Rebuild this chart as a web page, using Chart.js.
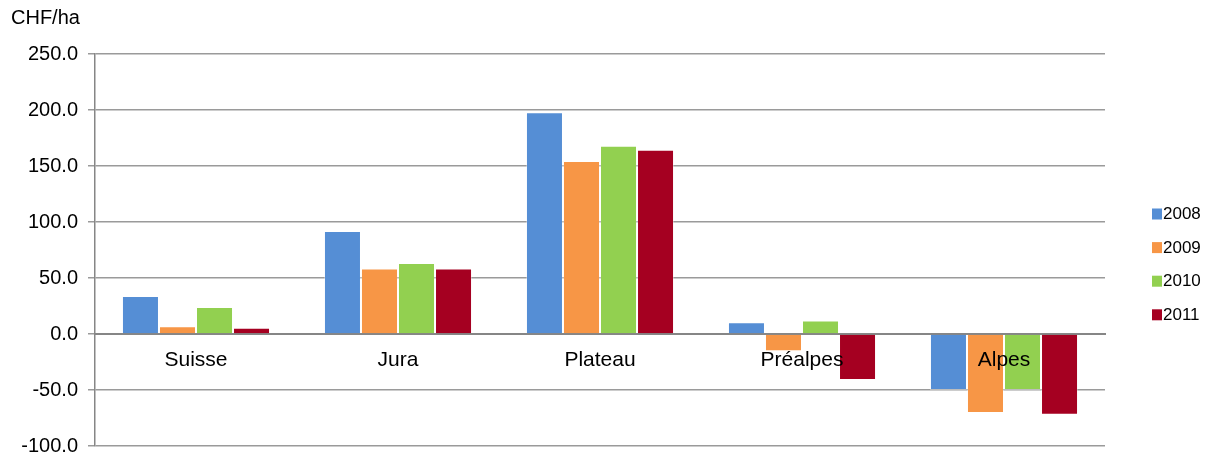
<!DOCTYPE html>
<html>
<head>
<meta charset="utf-8">
<script src="https://cdn.jsdelivr.net/npm/chart.js@4/dist/chart.umd.min.js"></script>
<style>
  html, body { margin: 0; padding: 0; background: #fff; }
  #wrap { width: 1214px; height: 457px; }
</style>
</head>
<body>
<div id="wrap"><canvas id="chartRevenu"></canvas></div>
<script>
// Données (CHF/ha)
const regions = ["Suisse", "Jura", "Plateau", "Préalpes", "Alpes"];
const annees = ["2008", "2009", "2010", "2011"];
const valeurs2008 = [34, 92, 198, 10.5, -50];
const valeurs2009 = [7, 58.5, 154.5, -15.5, -70.5];
const valeurs2010 = [24, 63.5, 168, 12, -50];
const valeurs2011 = [5.5, 58.5, 164.5, -41, -72];
const couleurs = ["#558ED5", "#F79646", "#92D050", "#A50021"];

const series = [valeurs2008, valeurs2009, valeurs2010, valeurs2011];
const police = "'Liberation Sans', Arial, sans-serif";

// Titre de l'axe Y et légende à droite
const decor = {
  id: "decor",
  afterDraw(chart) {
    const c = chart.ctx;
    c.save();
    c.fillStyle = "#000";
    c.font = "20px " + police;
    c.textBaseline = "middle";
    c.textAlign = "left";
    c.fillText("CHF/ha", 11, 18);
    c.font = "17px " + police;
    chart.data.datasets.forEach((ds, i) => {
      const y = 214 + i * 33.6;
      c.fillStyle = ds.backgroundColor;
      c.fillRect(1152, y - 5.5, 10, 11);
      c.fillStyle = "#000";
      c.fillText(ds.label, 1163, y + 0.5);
    });
    c.restore();
  }
};

const ctx = document.getElementById("chartRevenu").getContext("2d");
const chart = new Chart(ctx, {
  type: "bar",
  data: {
    labels: regions,
    datasets: annees.map((a, i) => ({
      label: a,
      data: series[i],
      backgroundColor: couleurs[i],
      borderColor: "rgba(255,255,255,0.35)",
      borderWidth: 1,
      categoryPercentage: 0.733,
      barPercentage: 1.0
    }))
  },
  options: {
    responsive: true,
    maintainAspectRatio: false,
    animation: false,
    layout: { padding: { left: 0, top: 54, right: 109, bottom: 11 } },
    plugins: {
      legend: { display: false },
      tooltip: { enabled: false }
    },
    scales: {
      x: {
        position: { y: 0 },
        grid: { display: false, drawTicks: false },
        border: { display: true, color: "#868686", width: 2 },
        ticks: { z: 1, color: "#000", autoSkip: false, font: { family: police, size: 21 }, padding: 14 },
        afterFit: (s) => { s.height = 0; }
      },
      y: {
        min: -100,
        max: 250,
        ticks: {
          stepSize: 50,
          color: "#000",
          padding: 10,
          font: { family: police, size: 20 },
          callback: (v) => v.toFixed(1)
        },
        grid: { color: "#9a9a9a", lineWidth: 1.5, tickLength: 7 },
        border: { display: true, color: "#868686", width: 1.5 },
        afterFit: (s) => { s.width = 95; s.paddingBottom = 0; }
      }
    }
  },
  plugins: [decor]
});
</script>
</body>
</html>
